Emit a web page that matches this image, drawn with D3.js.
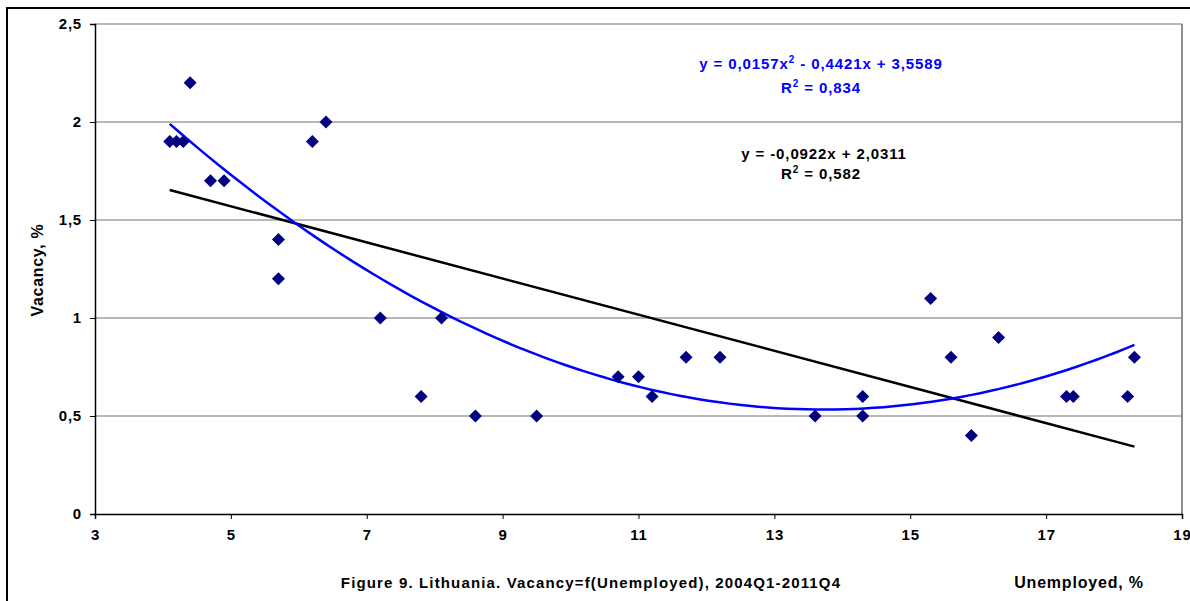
<!DOCTYPE html>
<html>
<head>
<meta charset="utf-8">
<script src="https://cdn.jsdelivr.net/npm/d3@7"></script>
<style>
  body { margin: 0; background: #fff; }
  text { font-family: "Liberation Sans", Arial, sans-serif; font-weight: bold; }
</style>
</head>
<body>
<svg width="1190" height="601"></svg>
<script>
// unemployment (%) vs vacancy (%), quarterly 2004Q1-2011Q4
let unemployed = [4.1, 4.2, 4.3, 4.4, 4.7, 4.9, 5.7, 5.7, 6.2, 6.4, 7.2, 7.8, 8.1, 8.6, 9.5, 10.7,
  11.0, 11.2, 11.7, 12.2, 13.6, 14.3, 14.3, 15.3, 15.6, 15.9, 16.3, 17.3, 17.4, 18.2, 18.3];
let vacancy = [1.9, 1.9, 1.9, 2.2, 1.7, 1.7, 1.4, 1.2, 1.9, 2.0, 1.0, 0.6, 1.0, 0.5, 0.5, 0.7,
  0.7, 0.6, 0.8, 0.8, 0.5, 0.6, 0.5, 1.1, 0.8, 0.4, 0.9, 0.6, 0.6, 0.6, 0.8];

let xTicks = [3, 5, 7, 9, 11, 13, 15, 17, 19];
let yTicks = [0, 0.5, 1, 1.5, 2, 2.5];

// trendlines as drawn on the chart (slope, intercept) and (a, b, c)
let linCoef = [-0.0922, 2.0311];
let quadCoef = [0.01574, -0.432, 3.497];

// trendline labels as printed on the chart
let linLabel = ["y = -0,0922x + 2,0311", "0,582"];
let polyLabel = ["y = 0,0157x", " - 0,4421x + 3,5589", "0,834"];

let svg = d3.select('svg');

let x = d3.scaleLinear().domain([3, 19]).range([95, 1182]);
let y = d3.scaleLinear().domain([0, 2.5]).range([514, 24]);

let fmt = d => String(d).replace('.', ',');

let linFit = v => linCoef[0] * v + linCoef[1];
let quadFit = v => quadCoef[0] * v * v + quadCoef[1] * v + quadCoef[2];

// outer frame (only top/left visible)
svg.append('path')
  .attr('d', 'M7,601 L7,8 L1190,8')
  .attr('fill', 'none')
  .attr('stroke', '#000')
  .attr('stroke-width', 2);

// gridlines
svg.append('g')
  .selectAll('line')
  .data(yTicks.slice(1))
  .enter()
  .append('line')
  .attr('x1', x(3)).attr('x2', x(19))
  .attr('y1', d => y(d)).attr('y2', d => y(d))
  .attr('stroke', '#707070')
  .attr('stroke-width', 1);

// plot area right border
svg.append('line')
  .attr('x1', x(19)).attr('x2', x(19))
  .attr('y1', y(2.5)).attr('y2', y(0))
  .attr('stroke', '#909090')
  .attr('stroke-width', 2);

// axes
let xAxis = svg.append('g')
  .attr('transform', `translate(0,${y(0)})`)
  .call(d3.axisBottom(x).tickValues(xTicks).tickSize(5).tickPadding(10).tickFormat(fmt));
let yAxis = svg.append('g')
  .attr('transform', `translate(${x(3)},0)`)
  .call(d3.axisLeft(y).tickValues(yTicks).tickSize(5).tickPadding(8).tickFormat(fmt));

[xAxis, yAxis].forEach(a => {
  a.select('.domain').attr('stroke', '#000').attr('stroke-width', 1.5);
  a.selectAll('.tick line').attr('stroke', '#000');
  a.selectAll('text')
    .attr('fill', '#000')
    .style('font-size', '15px')
    .style('letter-spacing', '0.8px')
    .style('font-family', '"Liberation Sans", Arial, sans-serif')
    .style('font-weight', 'bold');
});

// linear trendline
let xMin = d3.min(unemployed), xMax = d3.max(unemployed);
svg.append('line')
  .attr('x1', x(xMin)).attr('y1', y(linFit(xMin)))
  .attr('x2', x(xMax)).attr('y2', y(linFit(xMax)))
  .attr('stroke', '#000')
  .attr('stroke-width', 2.5);

// polynomial trendline
let curveX = d3.range(xMin, xMax + 0.001, (xMax - xMin) / 100);
svg.append('path')
  .datum(curveX)
  .attr('fill', 'none')
  .attr('stroke', '#0000ff')
  .attr('stroke-width', 2.5)
  .attr('d', d3.line().x(d => x(d)).y(d => y(quadFit(d))));

// points
svg.append('g')
  .selectAll('path')
  .data(unemployed)
  .enter()
  .append('path')
  .attr('transform', (d, i) => `translate(${x(d)},${y(vacancy[i])})`)
  .attr('d', 'M0,-6.5L6.5,0L0,6.5L-6.5,0Z')
  .attr('fill', '#000080');

// equation labels
function label(xp, yp, color, parts) {
  let t = svg.append('text')
    .attr('x', xp).attr('y', yp)
    .attr('text-anchor', 'middle')
    .attr('fill', color)
    .style('font-size', '15px')
    .style('letter-spacing', '0.9px');
  parts.forEach(p => {
    if (p.sup) t.append('tspan').attr('dy', -6).style('font-size', '10px').text(p.sup);
    else t.append('tspan').attr('dy', p.after ? 6 : 0).text(p.text);
  });
}
label(821, 69, '#0000ff', [{text: polyLabel[0]}, {sup: '2'}, {text: polyLabel[1], after: true}]);
label(821, 93, '#0000ff', [{text: 'R'}, {sup: '2'}, {text: ' = ' + polyLabel[2], after: true}]);
label(824, 159, '#000', [{text: linLabel[0]}]);
label(821, 179, '#000', [{text: 'R'}, {sup: '2'}, {text: ' = ' + linLabel[1], after: true}]);

// axis titles
svg.append('text')
  .attr('transform', 'translate(43,270) rotate(-90)')
  .attr('text-anchor', 'middle')
  .style('font-size', '16px')
  .style('letter-spacing', '0.7px')
  .text('Vacancy, %');

svg.append('text')
  .attr('x', 1079).attr('y', 588)
  .attr('text-anchor', 'middle')
  .style('font-size', '16px')
  .style('letter-spacing', '0.8px')
  .text('Unemployed, %');

svg.append('text')
  .attr('x', 591).attr('y', 588)
  .attr('text-anchor', 'middle')
  .style('font-size', '15px')
  .style('letter-spacing', '1.15px')
  .text('Figure 9. Lithuania. Vacancy=f(Unemployed), 2004Q1-2011Q4');
</script>
</body>
</html>
